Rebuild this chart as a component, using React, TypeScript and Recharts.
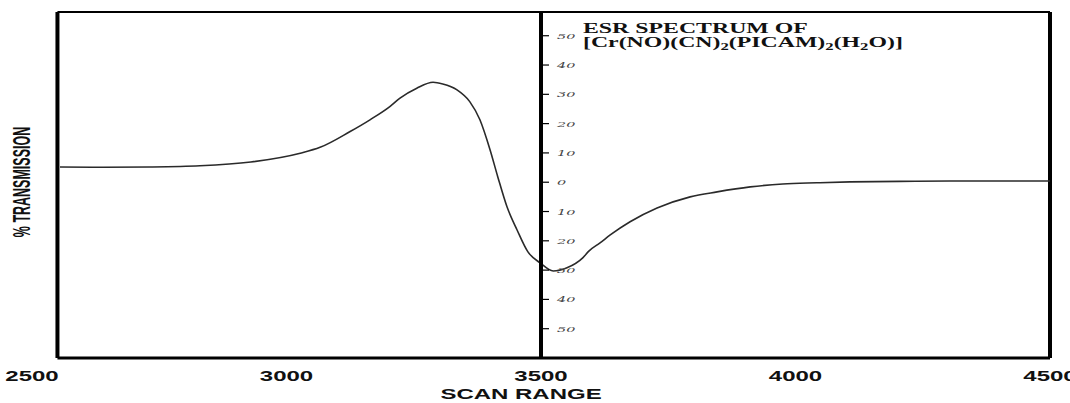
import React from 'react';
import { LineChart, Line, XAxis, YAxis, ReferenceLine, Label } from 'recharts';

// ESR spectrum (magnetic field scan vs. signal, arbitrary units)
const scanRange = [
  2555, 2640, 2730, 2830, 2930, 3027, 3066, 3125, 3164, 3203, 3223, 3256, 3288, 3307,
  3335, 3360, 3380, 3400, 3415, 3433, 3453, 3474, 3498, 3524, 3551, 3582, 3594, 3616,
  3636, 3675, 3728, 3793, 3846, 3911, 3975, 4042, 4107, 4205, 4303, 4402, 4500,
];
const signal = [
  5.2, 5.1, 5.2, 5.6, 6.9, 9.9, 11.9, 17.3, 21.3, 25.8, 28.7, 32.1, 34.1, 33.5,
  31.5, 27.5, 21.3, 11.0, 1.9, -8.3, -16.3, -23.7, -27.5, -30.3, -29.2, -25.8, -23.5, -20.7,
  -18.0, -13.5, -8.8, -5.0, -3.3, -1.6, -0.6, -0.2, 0.1, 0.3, 0.4, 0.4, 0.4,
];
const xTicks = [2500, 3000, 3500, 4000, 4500];
const midTicks = [50, 40, 30, 20, 10, 0, -10, -20, -30, -40, -50];

const X_MIN = 2500;
const X_MAX = 4500;
const FRAME_START = 2550;
const FRAME_END = 4500;
const CENTER_AXIS = 3500;
const Y_MIN = -60;
const Y_MAX = 58.1;

const data = scanRange.map((s, i) => ({ scan: s, signal: signal[i] }));

const W = 1070;
const H = 403;
const TOP = 12;
const X_AXIS_H = 45;
const Y_AXIS_W = 32;
const RIGHT = 20;
const plotLeft = Y_AXIS_W;
const plotRight = W - RIGHT;
const centerPx = plotLeft + ((CENTER_AXIS - X_MIN) / (X_MAX - X_MIN)) * (plotRight - plotLeft);

const SANS = '"Liberation Sans", Arial, Helvetica, sans-serif';
const SERIF = '"Liberation Serif", "Times New Roman", serif';

const XTick = (props: any) => {
  const { x, y, payload } = props;
  return (
    <text
      x={0}
      y={0}
      transform={`translate(${x},${y}) scale(1.6,1)`}
      textAnchor="middle"
      dy={13}
      fontFamily={SANS}
      fontWeight="bold"
      fontSize={15}
      fill="#111"
    >
      {payload.value}
    </text>
  );
};

const MidTick = (props: any) => {
  const { x, y, payload } = props;
  return (
    <text
      x={0}
      y={0}
      transform={`translate(${x},${y}) scale(1.8,1)`}
      dy={3}
      textAnchor="start"
      fontFamily='"DejaVu Serif", serif'
      fontStyle="italic"
      fontSize={8}
      fill="#444"
    >
      {Math.abs(payload.value)}
    </text>
  );
};

const YTitle = (props: any) => {
  const vb = props.viewBox || { x: 0, y: TOP, width: Y_AXIS_W, height: H - TOP - X_AXIS_H };
  const cx = vb.x + vb.width - 10;
  const cy = vb.y + vb.height / 2 - 3;
  return (
    <text
      transform={`translate(${cx},${cy}) scale(1.9,1) rotate(-90)`}
      x={0}
      y={0}
      textAnchor="middle"
      dominantBaseline="central"
      fontFamily={SANS}
      fontWeight="bold"
      fontSize={12.5}
      fill="#111"
    >
      % TRANSMISSION
    </text>
  );
};

const XTitle = (props: any) => {
  const vb = props.viewBox || { x: plotLeft, y: H - X_AXIS_H, width: plotRight - plotLeft, height: X_AXIS_H };
  const cx = vb.x + vb.width / 2 - 20;
  const cy = vb.y + vb.height - 4;
  return (
    <text
      transform={`translate(${cx},${cy}) scale(1.6,1)`}
      x={0}
      y={0}
      textAnchor="middle"
      fontFamily={SANS}
      fontWeight="bold"
      fontSize={15}
      fill="#111"
    >
      SCAN RANGE
    </text>
  );
};

const sub = { fontSize: '0.7em', verticalAlign: '-0.3em', lineHeight: 0 } as React.CSSProperties;

export default function App() {
  return (
    <div style={{ position: 'absolute', left: 0, top: 0, width: W, height: H, background: '#fff' }}>
      <LineChart
        width={W}
        height={H}
        data={data}
        margin={{ top: TOP, right: RIGHT, bottom: 0, left: 0 }}
      >
        <XAxis
          dataKey="scan"
          type="number"
          domain={[X_MIN, X_MAX]}
          ticks={xTicks}
          interval={0}
          axisLine={false}
          tickLine={false}
          tickSize={6}
          tickMargin={4}
          height={X_AXIS_H}
          tick={<XTick />}
        >
          <Label content={<XTitle />} />
        </XAxis>
        <YAxis
          type="number"
          domain={[Y_MIN, Y_MAX]}
          width={Y_AXIS_W}
          tick={false}
          axisLine={false}
          tickLine={false}
        >
          <Label content={<YTitle />} />
        </YAxis>
        <ReferenceLine x={FRAME_START} stroke="#000" strokeWidth={4} />
        <ReferenceLine x={FRAME_END} stroke="#000" strokeWidth={4} />
        <ReferenceLine
          segment={[{ x: FRAME_START, y: Y_MAX }, { x: FRAME_END, y: Y_MAX }]}
          stroke="#000"
          strokeWidth={2}
        />
        <ReferenceLine
          segment={[{ x: FRAME_START, y: Y_MIN }, { x: FRAME_END, y: Y_MIN }]}
          stroke="#000"
          strokeWidth={3}
        />
        <Line
          type="monotone"
          dataKey="signal"
          stroke="#2a2a2a"
          strokeWidth={1.6}
          dot={false}
          isAnimationActive={false}
        />
      </LineChart>

      <div style={{ position: 'absolute', left: 0, top: 0, pointerEvents: 'none' }}>
        <LineChart
          width={W}
          height={H}
          data={data}
          margin={{ top: TOP, right: 0, bottom: X_AXIS_H, left: centerPx }}
        >
          <XAxis dataKey="scan" type="number" domain={[CENTER_AXIS, X_MAX]} allowDataOverflow hide />
          <YAxis
            type="number"
            domain={[Y_MIN, Y_MAX]}
            allowDataOverflow
            ticks={midTicks}
            interval={0}
            orientation="left"
            mirror
            width={30}
            axisLine={{ stroke: '#000', strokeWidth: 4 }}
            tickLine={{ stroke: '#000', strokeWidth: 1.2 }}
            tickSize={8}
            tickMargin={8}
            tick={<MidTick />}
          />
          <Line
            type="monotone"
            dataKey="signal"
            stroke="transparent"
            strokeWidth={0}
            dot={false}
            activeDot={false}
            isAnimationActive={false}
          />
        </LineChart>
      </div>

      <div
        style={{
          position: 'absolute',
          left: 583,
          top: 22,
          transform: 'scaleX(1.7)',
          transformOrigin: '0 0',
          fontFamily: SERIF,
          fontWeight: 'bold',
          fontSize: 14,
          lineHeight: '14px',
          color: '#111',
          whiteSpace: 'nowrap',
        }}
      >
        <div>ESR SPECTRUM OF</div>
        <div>
          [Cr(NO)(CN)<span style={sub}>2</span>(PICAM)<span style={sub}>2</span>(H<span style={sub}>2</span>O)]
        </div>
      </div>
    </div>
  );
}
